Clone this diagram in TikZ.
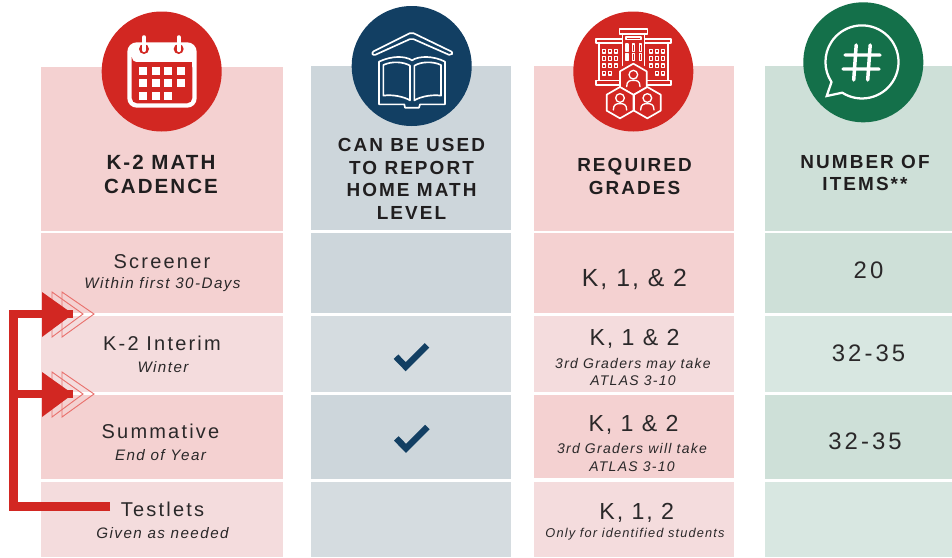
\documentclass[tikz,border=0pt]{standalone}
\usepackage{fontspec}
\setmainfont{Liberation Sans}
\newfontfamily\lsHead[LetterSpace=10]{Liberation Sans}
\newfontfamily\lsHeadB[LetterSpace=11]{Liberation Sans}
\newfontfamily\lsRow[LetterSpace=11]{Liberation Sans}
\newfontfamily\lsSub[LetterSpace=9.5]{Liberation Sans}
\newfontfamily\lsSmall[LetterSpace=9]{Liberation Sans}
\newfontfamily\lsBig[LetterSpace=8]{Liberation Sans}
\newfontfamily\lsNum[LetterSpace=13]{Liberation Sans}
\definecolor{redA}{HTML}{F4D1D1}
\definecolor{redB}{HTML}{F4DCDD}
\definecolor{blueA}{HTML}{CDD6DB}
\definecolor{blueB}{HTML}{D5DCE0}
\definecolor{greenA}{HTML}{CEE0D8}
\definecolor{greenB}{HTML}{D8E7E1}
\definecolor{mainred}{HTML}{D22722}
\definecolor{navy}{HTML}{123F63}
\definecolor{mainGreen}{HTML}{14704A}
\definecolor{ink}{HTML}{2A2829}
\definecolor{headink}{HTML}{201E1F}
\definecolor{outl}{HTML}{E9716D}
\tikzset{
  txt/.style={inner sep=0pt,text=ink,align=center},
  headtxt/.style={txt,text=headink,font=\lsHead\bfseries\fontsize{15.4}{18}\selectfont},
  headtxtb/.style={txt,text=headink,font=\lsHeadB\bfseries\fontsize{14.2}{17}\selectfont},
  rowtxt/.style={txt,font=\lsRow\fontsize{15}{18}\selectfont},
  subtxt/.style={txt,font=\lsSub\itshape\fontsize{11.4}{13.5}\selectfont},
  smalltxt/.style={txt,font=\lsSmall\itshape\fontsize{10.5}{13.3}\selectfont},
  tinytxt/.style={txt,font=\lsSmall\itshape\fontsize{9.6}{12}\selectfont},
  bigtxt/.style={txt,font=\lsBig\fontsize{17.4}{20}\selectfont},
  bigger/.style={txt,font=\lsBig\fontsize{18.6}{20}\selectfont},
  numtxt/.style={txt,font=\lsNum\fontsize{17.9}{20}\selectfont},
  iconline/.style={draw=white,line width=1.25pt,line join=round,line cap=round},
  bar/.style={draw=mainred,line width=6.5pt},
  hollowtip/.style={draw=outl,line width=.7pt,line join=miter},
  checkmark/.style={draw=navy,line width=4.8pt,line join=miter},
}
\newcommand{\tipmark}[1]{%
  \begin{scope}[shift={(#1)}]
    \draw[hollowtip] (-21,-22) -- (10,0) -- (-21,23) -- cycle;
    \draw[hollowtip] (-11,-22) -- (21,0) -- (-11,23) -- cycle;
    \fill[mainred] (-31,-22) -- (0,0) -- (-31,23) -- cycle;
  \end{scope}}
\newcommand{\person}[2]{%
  \begin{scope}[shift={(#1,#2)}]
    \draw[iconline,line width=1pt] (0,-14) circle[radius=13];
    \draw[iconline,line width=1pt] (-20,22) .. controls (-20,4) and (-10,3) .. (0,3) .. controls (10,3) and (20,4) .. (20,22);
  \end{scope}}
\newcommand{\hexa}[2]{%
  \begin{scope}[shift={(#1,#2)}]
    \draw[iconline,fill=mainred] (0,-47) -- (40,-24) -- (40,24) -- (0,47) -- (-40,24) -- (-40,-24) -- cycle;
  \end{scope}}
\begin{document}
\begin{tikzpicture}[x=0.75pt,y=-0.75pt]
\useasboundingbox (0,0) rectangle (952,557);
% column 1
\fill[redA] (41,67) rectangle (283,231);
\fill[redA] (41,233) rectangle (283,313);
\fill[redB] (41,316) rectangle (283,392);
\fill[redA] (41,395) rectangle (283,479);
\fill[redB] (41,482) rectangle (283,557);
% column 2
\fill[blueA] (311,66) rectangle (511,230);
\fill[blueA] (311,233) rectangle (511,313);
\fill[blueB] (311,316) rectangle (511,392);
\fill[blueA] (311,395) rectangle (511,479);
\fill[blueB] (311,482) rectangle (511,557);
% column 3
\fill[redA] (534,66) rectangle (734,231);
\fill[redA] (534,233) rectangle (734,313);
\fill[redB] (534,316) rectangle (734,392);
\fill[redA] (534,395) rectangle (734,478);
\fill[redB] (534,482) rectangle (734,557);
% column 4
\fill[greenA] (765,66) rectangle (952,231);
\fill[greenA] (765,233) rectangle (952,313);
\fill[greenB] (765,316) rectangle (952,392);
\fill[greenA] (765,395) rectangle (952,479);
\fill[greenB] (765,482) rectangle (952,557);
% badges
\fill[mainred] (161.7,71.5) circle[radius=60];
\fill[navy] (411.7,66) circle[radius=60];
\fill[mainred] (633.3,71.5) circle[radius=60];
\fill[mainGreen] (863.3,62.3) circle[radius=60];
% calendar icon
\begin{scope}[x=0.25pt,y=-0.25pt]
  \fill[white,rounded corners=7pt] (382,127) rectangle (590,323);
  \fill[mainred,rounded corners=4pt] (395,187) -- (577,187) -- (577,310) -- (395,310) -- (395,187) -- cycle;
  \fill[mainred] (395,187) rectangle (577,230);
  \foreach \xx in {432,536}{
    \fill[mainred] (\xx,147) circle[radius=15];
    \draw[white,line width=3.2pt,line cap=round] (\xx,112) -- (\xx,150);
  }
  \foreach \xx in {418,456,493,530}{
    \fill[white] (\xx,200) rectangle ++(24,24);
    \fill[white] (\xx,238) rectangle ++(24,24);
  }
  \foreach \xx in {418,456,493}{
    \fill[white] (\xx,275) rectangle ++(24,24);
  }
\end{scope}
% book and roof icon
\begin{scope}[shift={(365,25)},x=0.25pt,y=-0.25pt]
  \draw[iconline,rounded corners=1.5pt] (20,82) -- (140,22) -- (264,82) -- (258,92) -- (140,40) -- (25,92) -- cycle;
  \draw[iconline] (42,238) -- (42,110) .. controls (80,92) and (120,92) .. (141,106) .. controls (162,92) and (205,92) .. (240,110) -- (240,238) -- (165,238) -- (162,248) -- (120,248) -- (118,238) -- cycle;
  \draw[iconline] (55,212) -- (55,120) .. controls (80,108) and (115,110) .. (135,122) -- (135,226) .. controls (115,214) and (80,208) .. (55,212) -- cycle;
  \draw[iconline] (228,212) -- (228,120) .. controls (203,108) and (168,110) .. (148,122) -- (148,226) .. controls (168,214) and (203,208) .. (228,212) -- cycle;
\end{scope}
% school icon
\begin{scope}[shift={(590,22)},x=0.25pt,y=-0.25pt]
  \draw[iconline] (88,20) rectangle (172,35);
  \draw[iconline] (97,35) -- (97,130);
  \draw[iconline] (163,35) -- (163,130);
  \draw[iconline] (108,45) rectangle (152,52);
  \foreach \xx in {108,128,148}{
    \draw[iconline,line width=.9pt] (\xx,66) rectangle ++(6,22);
    \draw[iconline,line width=.9pt] (\xx,95) rectangle ++(6,21);
  }
  \draw[iconline] (18,50) rectangle (97,62);
  \draw[iconline] (163,50) rectangle (243,62);
  \draw[iconline] (27,62) -- (27,175);
  \draw[iconline] (234,62) -- (234,175);
  \draw[iconline] (18,175) rectangle (92,188);
  \draw[iconline] (168,175) rectangle (243,188);
  \foreach \xx in {38,56,74,178,196,214}{
    \foreach \yy in {82,104,126}{
      \draw[iconline,line width=.9pt] (\xx,\yy) rectangle ++(9,11);
    }
  }
  \foreach \xx in {38,56,196,214}{
    \draw[iconline,line width=.9pt] (\xx,148) rectangle ++(9,11);
  }
  \hexa{130}{172}
  \hexa{90}{242}
  \hexa{172}{242}
  \person{130}{172}
  \person{90}{242}
  \person{172}{242}
\end{scope}
% speech bubble icon
\draw[white,line width=1.7pt,line join=miter] (842.3,92.7) arc[start angle=237.4,end angle=573.4,radius=27.4pt] -- (826.7,96) -- cycle;
\draw[white,line width=2.6pt,line cap=round] (856.2,45) -- (853.7,80) (870.2,45) -- (867.7,80) (845,55) -- (880,55) (843,69) -- (879,69);
% headings
\node[headtxt] (hCadence) at (161,174) {K-2 MATH\\CADENCE};
\node[headtxtb] (hHome) at (411.5,179) {CAN BE USED\\TO REPORT\\HOME MATH\\LEVEL};
\node[headtxtb] (hGrades) at (634.5,176.5) {REQUIRED\\GRADES};
\node[headtxtb] (hItems) at (865,173) {NUMBER OF\\ITEMS**};
% column 1 rows
\node[rowtxt] (screener) at (162,262) {Screener};
\node[subtxt] (screenerSub) at (162.5,285) {Within first 30-Days};
\node[rowtxt] (interim) at (162,343.5) {K-2 Interim};
\node[subtxt] (interimSub) at (163,367) {Winter};
\node[rowtxt] (summative) at (160.5,431.7) {Summative};
\node[subtxt] (summativeSub) at (160.5,455) {End of Year};
\node[rowtxt] (testlets) at (162.5,509) {Testlets};
\node[subtxt] (testletsSub) at (162.5,533.5) {Given as needed};
% checks
\coordinate (checkA) at (405.7,366.7);
\coordinate (checkB) at (406,448.4);
\draw[checkmark] (396,356.7) -- (checkA) -- (427,345.3);
\draw[checkmark] (396.3,438.4) -- (checkB) -- (427.3,427);
% column 3 rows
\node[bigger] (gradesA) at (634.5,279) {K, 1, \& 2};
\node[bigtxt] (gradesB) at (634.5,339) {K, 1 \& 2};
\node[smalltxt] (gradesBSub) at (633,372) {3rd Graders may take\\ATLAS 3-10};
\node[bigtxt] (gradesC) at (633.5,425) {K, 1 \& 2};
\node[smalltxt] (gradesCSub) at (632,457.8) {3rd Graders will take\\ATLAS 3-10};
\node[bigtxt] (gradesD) at (636.7,512.5) {K, 1, 2};
\node[tinytxt] (gradesDSub) at (635,534.5) {Only for identified students};
% column 4 rows
\node[numtxt] (itemsA) at (868.5,270) {20};
\node[numtxt] (itemsB) at (868.5,353) {32-35};
\node[numtxt] (itemsC) at (865,441) {32-35};
% bracket connector
\coordinate (barStart) at (110,506.5);
\coordinate (barLow) at (13.5,506.5);
\coordinate (barTop) at (13.5,314);
\coordinate (barMid) at (13.5,394);
\coordinate (tipA) at (73,314);
\coordinate (tipB) at (73,394);
\draw[bar] (barStart) -- (barLow) -- (barTop) -- (tipA);
\draw[bar] (barMid) -- (tipB);
\tipmark{tipA}
\tipmark{tipB}
\end{tikzpicture}
\end{document}
